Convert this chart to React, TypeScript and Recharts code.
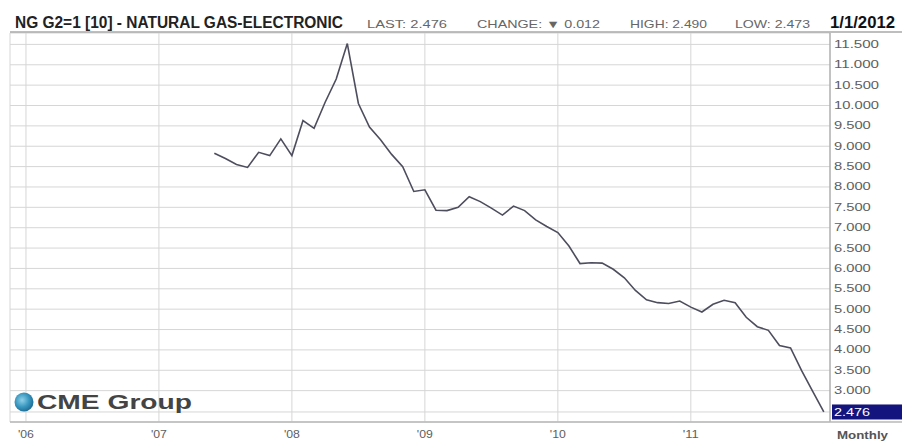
import React from 'react';
import { LineChart, Line, XAxis, YAxis, CartesianGrid } from 'recharts';

// Monthly settlement (NG G2 contract), Jun 2007 .. Jan 2012
const months: string[] = [
  '2007-06', '2007-07', '2007-08', '2007-09', '2007-10', '2007-11', '2007-12',
  '2008-01', '2008-02', '2008-03', '2008-04', '2008-05', '2008-06', '2008-07', '2008-08', '2008-09', '2008-10', '2008-11', '2008-12',
  '2009-01', '2009-02', '2009-03', '2009-04', '2009-05', '2009-06', '2009-07', '2009-08', '2009-09', '2009-10', '2009-11', '2009-12',
  '2010-01', '2010-02', '2010-03', '2010-04', '2010-05', '2010-06', '2010-07', '2010-08', '2010-09', '2010-10', '2010-11', '2010-12',
  '2011-01', '2011-02', '2011-03', '2011-04', '2011-05', '2011-06', '2011-07', '2011-08', '2011-09', '2011-10', '2011-11', '2011-12',
  '2012-01',
];

const prices: number[] = [
  8.83, 8.70, 8.55, 8.48, 8.85, 8.77, 9.18,
  8.77, 9.63, 9.44, 10.08, 10.65, 11.52, 10.05, 9.47, 9.16, 8.80, 8.50, 7.89,
  7.93, 7.43, 7.42, 7.50, 7.76, 7.64, 7.48, 7.31, 7.53, 7.42, 7.19, 7.03,
  6.88, 6.55, 6.12, 6.14, 6.13, 5.98, 5.77, 5.46, 5.23, 5.16, 5.14, 5.20,
  5.05, 4.93, 5.12, 5.22, 5.16, 4.80, 4.57, 4.48, 4.11, 4.05, 3.49, 2.98,
  2.476,
];

const xTickLabels: string[] = ["'06", "'07", "'08", "'09", "'10", "'11"];
const xTickYears: number[] = [2006, 2007, 2008, 2009, 2010, 2011];

const yTicks: number[] = [2.476, 3, 3.5, 4, 4.5, 5, 5.5, 6, 6.5, 7, 7.5, 8, 8.5, 9, 9.5, 10, 10.5, 11, 11.5];
const lastPrice = 2.476;

const header = {
  title: 'NG G2=1 [10] - NATURAL GAS-ELECTRONIC',
  last: 'LAST: 2.476',
  change: 'CHANGE: \u25BC 0.012',
  high: 'HIGH: 2.490',
  low: 'LOW: 2.473',
  date: '1/1/2012',
};

const BASE_YEAR = 2006;
const monthIndex = (s: string) => {
  const [y, m] = s.split('-').map(Number);
  return (y - BASE_YEAR) * 12 + (m - 1);
};

const data = months.map((m, i) => ({ idx: monthIndex(m), price: prices[i] }));
const xTicks = xTickYears.map((y) => (y - BASE_YEAR) * 12);

const FONT = '"Liberation Sans", Arial, Helvetica, sans-serif';

const YTick = (props: any) => {
  const { y, payload } = props;
  const v: number = payload.value;
  if (v === lastPrice) {
    return (
      <g>
        <rect x={832} y={y - 7.5} width={70} height={15} fill="#14147e" />
        <text x={834} y={y + 4} fill="#ffffff" fontSize={10} fontFamily={FONT} textLength={36} lengthAdjust="spacingAndGlyphs">
          {v.toFixed(3)}
        </text>
      </g>
    );
  }
  const label = v.toFixed(3);
  const digits = label.replace('.', '').length;
  return (
    <text x={834} y={y + 3.5} fill="#5e5e5e" fontSize={10} fontFamily={FONT} textLength={digits * 8.2 + 4} lengthAdjust="spacingAndGlyphs">
      {label}
    </text>
  );
};

const XTick = (props: any) => {
  const { x, payload } = props;
  const i = xTicks.indexOf(payload.value);
  const label = i >= 0 ? xTickLabels[i] : '';
  return (
    <text x={x} y={438} textAnchor="middle" fill="#5e5e5e" fontSize={10.5} fontFamily={FONT} textLength={16} lengthAdjust="spacingAndGlyphs">
      {label}
    </text>
  );
};

export default function App() {
  return (
    <div style={{ position: 'absolute', left: 0, top: 0, width: 902, height: 441, background: '#ffffff', overflow: 'hidden' }}>
      <LineChart width={902} height={441} data={data} margin={{ top: 33, right: 0, bottom: 0, left: 10 }}>
        <CartesianGrid stroke="#d6d6d6" strokeWidth={1} />
        <XAxis
          type="number"
          dataKey="idx"
          domain={[-1.44, 72.56]}
          ticks={xTicks}
          allowDataOverflow
          height={19}
          axisLine={false}
          tickLine={false}
          tick={<XTick />}
          interval={0}
        />
        <YAxis
          orientation="right"
          width={72}
          domain={[2.23, 11.78]}
          ticks={yTicks}
          allowDataOverflow
          axisLine={{ stroke: '#9a9a9a' }}
          tickLine={false}
          tick={<YTick />}
          interval={0}
        />
        <Line
          type="linear"
          dataKey="price"
          stroke="#4d4d5e"
          strokeWidth={1.6}
          dot={false}
          isAnimationActive={false}
        />
      </LineChart>
      <svg width={902} height={441} style={{ position: 'absolute', left: 0, top: 0, pointerEvents: 'none' }}>
        <defs>
          <radialGradient id="globe" cx="40%" cy="40%" r="65%">
            <stop offset="0%" stopColor="#8fd0e8" />
            <stop offset="55%" stopColor="#3a98c0" />
            <stop offset="100%" stopColor="#1b6a92" />
          </radialGradient>
        </defs>
        <text x={15} y={28} fontFamily={FONT} fontWeight="bold" fontSize={16} fill="#222" textLength={328} lengthAdjust="spacingAndGlyphs">
          {header.title}
        </text>
        <text x={367} y={28} fontFamily={FONT} fontSize={11} fill="#666" textLength={80} lengthAdjust="spacingAndGlyphs">
          {header.last}
        </text>
        <text x={477} y={28} fontFamily={FONT} fontSize={11} fill="#666" textLength={123} lengthAdjust="spacingAndGlyphs">
          {header.change}
        </text>
        <text x={630} y={28} fontFamily={FONT} fontSize={11} fill="#666" textLength={77} lengthAdjust="spacingAndGlyphs">
          {header.high}
        </text>
        <text x={735} y={28} fontFamily={FONT} fontSize={11} fill="#666" textLength={75} lengthAdjust="spacingAndGlyphs">
          {header.low}
        </text>
        <text x={830} y={28} fontFamily={FONT} fontWeight="bold" fontSize={16} fill="#111" textLength={65} lengthAdjust="spacingAndGlyphs">
          {header.date}
        </text>
        <line x1={10} y1={32} x2={902} y2={32} stroke="#a8a8a8" strokeWidth={1.5} />
        <line x1={10} y1={422} x2={902} y2={422} stroke="#b8b8b8" strokeWidth={1.5} />
        <circle cx={24} cy={402} r={9.5} fill="url(#globe)" />
        <text x={37} y={409} fontFamily={FONT} fontWeight="bold" fontSize={21} fill="#444" textLength={155} lengthAdjust="spacingAndGlyphs">
          CME Group
        </text>
        <text x={837} y={439} fontFamily={FONT} fontWeight="bold" fontSize={11} fill="#555" textLength={51} lengthAdjust="spacingAndGlyphs">
          Monthly
        </text>
      </svg>
    </div>
  );
}
